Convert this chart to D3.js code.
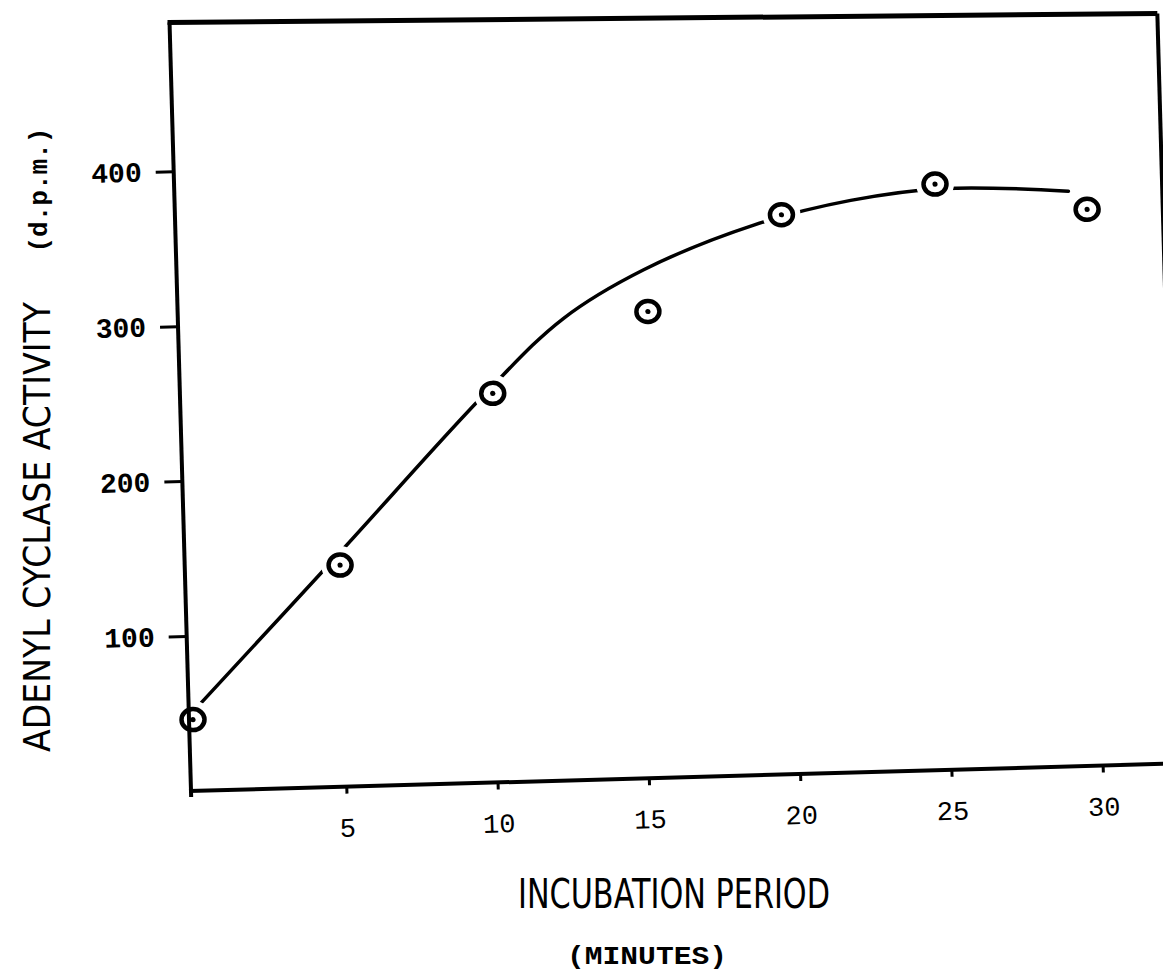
<!DOCTYPE html>
<html>
<head>
<meta charset="utf-8">
<script src="https://cdn.jsdelivr.net/npm/d3@7"></script>
<style>
  body { margin: 0; background: #fff; }
</style>
</head>
<body>
<div id="chart"></div>
<script>
// plotted points (minutes, d.p.m.)
var minutes  = [0, 5, 10.2, 15.4, 19.9, 25, 30];
var activity = [46, 143, 251, 301, 361, 378, 359];

// hand drawn fit line
var curveMinutes  = [0.3, 5, 10, 12.6, 15.3, 19, 22.2, 25.3, 29.4];
var curveActivity = [57, 151, 252, 298, 328, 355, 369, 375, 371];

var xTicks = [5, 10, 15, 20, 25, 30];
var yTicks = [100, 200, 300, 400];

var width = 1163,
    height = 975;

// the scan is a little rotated, so the plot group is turned too
var originX = 191,
    originY = 791,
    tilt = -1.6;

var x = d3.scaleLinear().domain([0, 30]).range([4, 912]);
var y = d3.scaleLinear().domain([0, 400]).range([0, -620]);

var svg = d3.select('#chart').append('svg')
    .attr('width', width)
    .attr('height', height)
    .style('background', '#fff');

var g = svg.append('g')
    .attr('transform', 'translate(' + originX + ',' + originY + ') rotate(' + tilt + ')');

// fitted curve
var line = d3.line()
    .x(function(d) { return x(d[0]); })
    .y(function(d) { return y(d[1]); })
    .curve(d3.curveCatmullRom.alpha(0.5));

g.append('path')
    .datum(d3.zip(curveMinutes, curveActivity))
    .attr('d', line)
    .attr('fill', 'none')
    .attr('stroke', '#000')
    .attr('stroke-width', 3.5)
    .attr('stroke-linecap', 'round');

var pts = d3.zip(minutes, activity);

// white gap around each point, like the pen lifted there
g.selectAll('circle.halo').data(pts)
  .enter().append('circle')
    .attr('class', 'halo')
    .attr('cx', function(d) { return x(d[0]); })
    .attr('cy', function(d) { return y(d[1]); })
    .attr('r', 19)
    .attr('fill', '#fff');

// frame
var frame = g.append('g')
    .attr('stroke', '#000')
    .attr('fill', 'none');

frame.append('line')
    .attr('x1', 0).attr('y1', 6)
    .attr('x2', 0).attr('y2', y(496))
    .attr('stroke-width', 4);

frame.append('line')
    .attr('x1', -2).attr('y1', y(496))
    .attr('x2', x(32.5)).attr('y2', y(484))
    .attr('stroke-width', 5);

frame.append('line')
    .attr('x1', x(32.5)).attr('y1', y(484))
    .attr('x2', x(32.5)).attr('y2', 0)
    .attr('stroke-width', 4);

frame.append('line')
    .attr('x1', -2).attr('y1', 0)
    .attr('x2', x(33.5)).attr('y2', 0)
    .attr('stroke-width', 4);

// axes
var xAxis = d3.axisBottom(x)
    .tickValues(xTicks)
    .tickSize(7)
    .tickPadding(24);

var yAxis = d3.axisLeft(y)
    .tickValues(yTicks)
    .tickSize(18)
    .tickPadding(14);

var gx = g.append('g').call(xAxis);
var gy = g.append('g').call(yAxis);

[gx, gy].forEach(function(a) {
    a.select('.domain').remove();
    a.selectAll('.tick line')
        .attr('stroke', '#000')
        .attr('stroke-width', 3);
    a.selectAll('.tick text')
        .attr('fill', '#000')
        .style('font-family', '"Liberation Mono", "DejaVu Sans Mono", monospace');
});
gx.selectAll('.tick text').style('font-size', '27px');
gy.selectAll('.tick text').style('font-size', '28px').style('font-weight', 'bold');

// markers
var mk = g.selectAll('g.pt').data(pts)
  .enter().append('g')
    .attr('class', 'pt')
    .attr('transform', function(d) {
        return 'translate(' + x(d[0]) + ',' + y(d[1]) + ')';
    });

mk.append('ellipse')
    .attr('rx', 11.5)
    .attr('ry', 10.5)
    .attr('fill', 'none')
    .attr('stroke', '#000')
    .attr('stroke-width', 4.5);

mk.append('circle')
    .attr('r', 2.6)
    .attr('fill', '#000');

// titles
svg.append('text')
    .attr('x', 674)
    .attr('y', 908)
    .attr('text-anchor', 'middle')
    .attr('textLength', 312)
    .attr('lengthAdjust', 'spacingAndGlyphs')
    .style('font-family', '"DejaVu Sans", sans-serif')
    .style('font-size', '40px')
    .text('INCUBATION PERIOD');

svg.append('text')
    .attr('x', 647)
    .attr('y', 964)
    .attr('text-anchor', 'middle')
    .attr('textLength', 160)
    .attr('lengthAdjust', 'spacingAndGlyphs')
    .style('font-family', '"Liberation Mono", monospace')
    .style('font-size', '26px')
    .style('font-weight', 'bold')
    .text('(MINUTES)');

svg.append('text')
    .attr('transform', 'translate(50,527) rotate(-90)')
    .attr('text-anchor', 'middle')
    .attr('textLength', 450)
    .attr('lengthAdjust', 'spacingAndGlyphs')
    .style('font-family', '"DejaVu Sans", sans-serif')
    .style('font-size', '38px')
    .text('ADENYL CYCLASE ACTIVITY');

svg.append('text')
    .attr('transform', 'translate(47,190) rotate(-90)')
    .attr('text-anchor', 'middle')
    .attr('textLength', 125)
    .attr('lengthAdjust', 'spacingAndGlyphs')
    .style('font-family', '"Liberation Mono", monospace')
    .style('font-size', '26px')
    .style('font-weight', 'bold')
    .text('(d.p.m.)');
</script>
</body>
</html>
